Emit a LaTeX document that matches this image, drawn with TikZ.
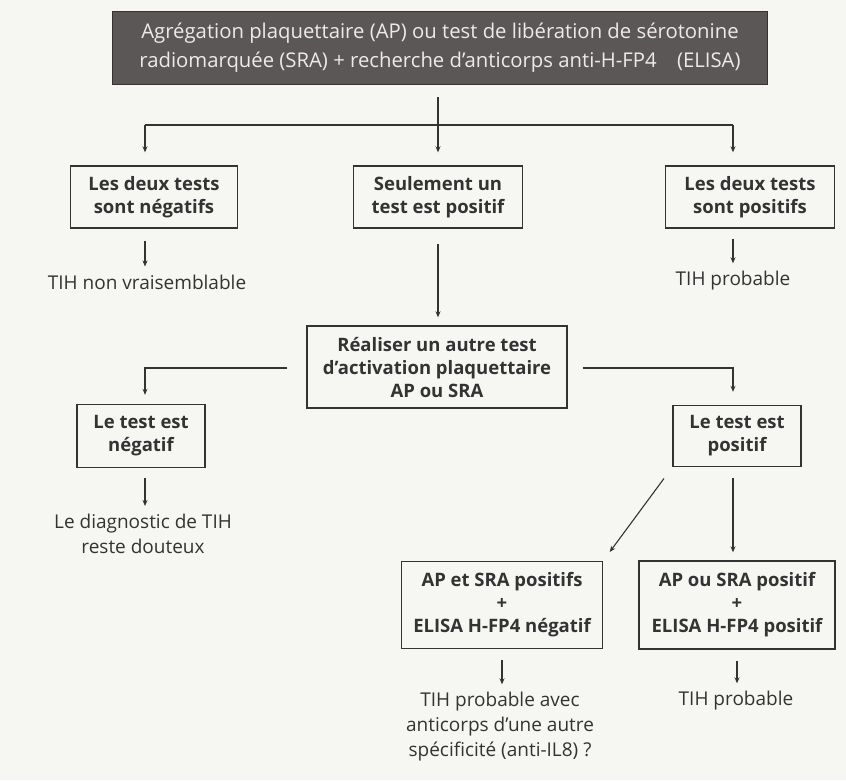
\documentclass[tikz,border=0pt]{standalone}
\usepackage{fontspec}
\setmainfont{Open Sans}
\usetikzlibrary{arrows.meta}
\definecolor{ink}{HTML}{333333}
\definecolor{paper}{HTML}{F6F6F3}
\definecolor{head}{HTML}{5B5757}
\begin{document}
\begin{tikzpicture}[x=1pt,y=-1pt,
  box/.style={draw=ink,line width=1.4pt,text=ink,align=center,inner sep=0pt,
    font=\bfseries\fontsize{18.5}{23}\selectfont},
  txt/.style={text=ink,align=center,inner sep=0pt,font=\fontsize{19}{25}\selectfont},
  arr/.style={draw=ink,line width=1.1pt,-{Stealth[length=6pt,width=5pt]}},
  lin/.style={draw=ink,line width=1.1pt}]
\fill[paper] (0,0) rectangle (846,780);
\node[draw=black!80,fill=head,line width=1pt,minimum width=655pt,minimum height=73pt,
  text=white!92!black,align=center,font=\fontsize{20.3}{29}\selectfont] (top) at (440,48)
  {Agrégation plaquettaire (AP) ou test de libération de sérotonine\\
   radiomarquée (SRA) + recherche d'anticorps anti-H-FP4\quad(ELISA)};
\node[box,minimum width=167pt,minimum height=62pt] (neg1) at (154,197) {Les deux tests\\sont négatifs};
\node[box,minimum width=169pt,minimum height=62pt] (seul) at (438,197) {Seulement un\\test est positif};
\node[box,minimum width=169pt,minimum height=62pt] (pos1) at (750,197) {Les deux tests\\sont positifs};
\node[txt] (tneg) at (147,282) {TIH non vraisemblable};
\node[txt] (tpos) at (733,281) {TIH probable};
\node[box,minimum width=260pt,minimum height=82pt] (real) at (437,367)
  {Réaliser un autre test\\d'activation plaquettaire\\AP ou SRA};
\node[box,minimum width=128pt,minimum height=63pt] (neg2) at (141,436) {Le test est\\négatif};
\node[box,minimum width=128pt,minimum height=61pt] (pos2) at (737,436) {Le test est\\positif};
\node[txt] (diag) at (143,534) {Le diagnostic de TIH\\reste douteux};
\node[box,minimum width=201pt,minimum height=87pt] (apet) at (502,605)
  {AP et SRA positifs\\+\\ELISA H-FP4 négatif};
\node[box,minimum width=196pt,minimum height=88pt] (apou) at (737,605)
  {AP ou SRA positif\\+\\ELISA H-FP4 positif};
\node[txt] (tavec) at (500,727) {TIH probable avec\\anticorps d'une autre\\spécificité (anti-IL8) ?};
\node[txt] (tprob) at (736,701) {TIH probable};
\coordinate (bar) at (438,125);
\coordinate (cl) at (145,125);
\coordinate (cr) at (733,125);
\coordinate (rl) at (145,368);
\coordinate (rr) at (733,368);
\draw[arr,shorten <=12pt,shorten >=13pt] (top.south -| bar) -- (seul.north -| bar);
\draw[lin] (cl) -- (cr);
\draw[arr,shorten >=13pt] (cl) -- (neg1.north -| cl);
\draw[arr,shorten >=13pt] (cr) -- (pos1.north -| cr);
\draw[arr,shorten <=12pt,shorten >=8pt] (neg1.south -| cl) -- (tneg.north -| cl);
\draw[arr,shorten <=10pt,shorten >=8pt] (pos1.south -| cr) -- (tpos.north -| cr);
\draw[arr,shorten <=15pt,shorten >=8pt] (seul.south -| bar) -- (real.north -| bar);
\draw[arr,shorten >=9pt] ([xshift=-19pt]real.west |- rl) -- (rl) -- (neg2.north -| rl);
\draw[arr,shorten >=13pt] ([xshift=15pt]real.east |- rr) -- (rr) -- (pos2.north -| rr);
\draw[arr,shorten <=10pt,shorten >=8pt] (neg2.south -| rl) -- (diag.north -| rl);
\draw[arr,shorten <=11pt,shorten >=8pt] (pos2.south -| rr) -- (apou.north -| rr);
\draw[arr,shorten <=14pt,shorten >=11pt] (pos2.south west) -- (apet.north east);
\draw[arr,shorten <=11pt,shorten >=8pt] (apet.south) -- (tavec.north -| apet.south);
\draw[arr,shorten <=11pt,shorten >=8pt] (apou.south) -- (tprob.north -| apou.south);
\end{tikzpicture}
\end{document}
